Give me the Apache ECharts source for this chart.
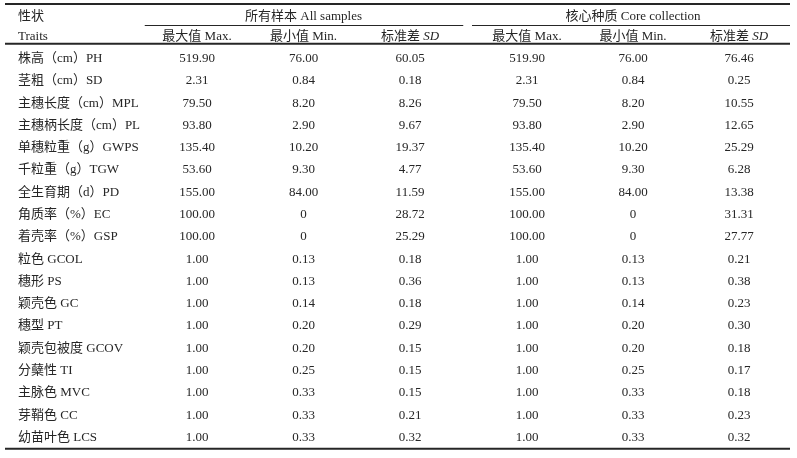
<!DOCTYPE html>
<html><head><meta charset="utf-8">
<script src="https://cdn.jsdelivr.net/npm/echarts@6/dist/echarts.min.js"></script>
<style>html,body{margin:0;padding:0;background:#fff}#c{width:797px;height:458px}</style>
</head><body><div id="c"></div>
<script>
// ---- data ----
const traitHeader = ['性状', 'Traits'];
const groupHeaders = ['所有样本 All samples', '核心种质 Core collection'];
const statHeaders = ['最大值 Max.', '最小值 Min.', '标准差 SD'];
const traits = ['株高（cm）PH','茎粗（cm）SD','主穗长度（cm）MPL','主穗柄长度（cm）PL','单穗粒重（g）GWPS','千粒重（g）TGW','全生育期（d）PD','角质率（%）EC','着壳率（%）GSP','粒色 GCOL','穗形 PS','颖壳色 GC','穗型 PT','颖壳包被度 GCOV','分蘖性 TI','主脉色 MVC','芽鞘色 CC','幼苗叶色 LCS'];
const allMax = [519.90,2.31,79.50,93.80,135.40,53.60,155.00,100.00,100.00,1.00,1.00,1.00,1.00,1.00,1.00,1.00,1.00,1.00];
const allMin = [76.00,0.84,8.20,2.90,10.20,9.30,84.00,0,0,0.13,0.13,0.14,0.20,0.20,0.25,0.33,0.33,0.33];
const allSD  = [60.05,0.18,8.26,9.67,19.37,4.77,11.59,28.72,25.29,0.18,0.36,0.18,0.29,0.15,0.15,0.15,0.21,0.32];
const coreMax = [519.90,2.31,79.50,93.80,135.40,53.60,155.00,100.00,100.00,1.00,1.00,1.00,1.00,1.00,1.00,1.00,1.00,1.00];
const coreMin = [76.00,0.84,8.20,2.90,10.20,9.30,84.00,0,0,0.13,0.13,0.14,0.20,0.20,0.25,0.33,0.33,0.33];
const coreSD  = [76.46,0.25,10.55,12.65,25.29,6.28,13.38,31.31,27.77,0.21,0.38,0.23,0.30,0.18,0.17,0.18,0.23,0.32];

// ---- layout / style ----
const FONT = '"Liberation Serif", "Times New Roman", "Noto Sans CJK SC", serif';
const FS = 13;
const INK = '#262626';
const TEXT_DY = 1.5;
const LAY = { ruleL: 5, ruleR: 790, ruleTop: 4, ruleHead: 43.7, ruleBottom: 448.7,
  headTop: 5, headH: 40, bodyTop: 45.85, bodyH: 401.3,
  traitL: 18, allL: 143.75, allW: 319.5, coreL: 474, coreW: 318 };

const fmt = v => v === 0 ? '0' : v.toFixed(2);
const rich = { n: { fontFamily: FONT, fontSize: FS, fill: INK }, i: { fontFamily: FONT, fontSize: FS, fontStyle: 'italic', fill: INK } };
const labelText = s => s.endsWith(' SD') ? '{n|' + s.slice(0, -2) + '}{i|SD}' : '{n|' + s + '}';

function hiddenAxis(type, gridIndex, extra) {
  return Object.assign({ type, gridIndex, show: false }, extra || {});
}

const grids = [
  { left: LAY.traitL, top: LAY.headTop, width: 120, height: LAY.headH },
  { left: LAY.allL, top: LAY.headTop, width: LAY.allW, height: LAY.headH },
  { left: LAY.coreL, top: LAY.headTop, width: LAY.coreW, height: LAY.headH },
  { left: LAY.traitL, top: LAY.bodyTop, width: 120, height: LAY.bodyH },
  { left: LAY.allL, top: LAY.bodyTop, width: LAY.allW, height: LAY.bodyH },
  { left: LAY.coreL, top: LAY.bodyTop, width: LAY.coreW, height: LAY.bodyH }
];
const headRows = ['group', 'stat'];
const xAxes = [
  hiddenAxis('value', 0, { min: 0, max: 1 }),
  hiddenAxis('category', 1, { data: statHeaders }),
  hiddenAxis('category', 2, { data: statHeaders }),
  hiddenAxis('value', 3, { min: 0, max: 1 }),
  hiddenAxis('category', 4, { data: statHeaders }),
  hiddenAxis('category', 5, { data: statHeaders })
];
const yAxes = [
  hiddenAxis('category', 0, { data: traitHeader, inverse: true }),
  hiddenAxis('category', 1, { data: headRows, inverse: true }),
  hiddenAxis('category', 2, { data: headRows, inverse: true }),
  hiddenAxis('category', 3, { data: traits, inverse: true }),
  hiddenAxis('category', 4, { data: traits, inverse: true }),
  hiddenAxis('category', 5, { data: traits, inverse: true })
];

function textSeries(g, items, align) {
  return {
    type: 'custom', xAxisIndex: g, yAxisIndex: g, silent: true,
    data: items.map(d => [d[0], d[1]]),
    renderItem(params, api) {
      const p = api.coord([api.value(0), api.value(1)]);
      return { type: 'text', x: p[0], y: p[1] + TEXT_DY,
        style: { text: labelText(items[params.dataIndex][2]), rich, align, verticalAlign: 'middle',
          fontFamily: FONT, fontSize: FS, fill: INK } };
    }
  };
}
function groupRule(g, insetL, insetR) {
  return {
    type: 'custom', xAxisIndex: g, yAxisIndex: g, silent: true, data: [[1, 0]],
    renderItem(params, api) {
      const p = api.coord([1, 0]);
      const s = api.size([1, 1]);
      const y = Math.round(p[1] + s[1] / 2) + 0.5;
      return { type: 'line', shape: { x1: p[0] - 1.5 * s[0] + insetL, y1: y, x2: p[0] + 1.5 * s[0] - insetR, y2: y },
        style: { stroke: INK, lineWidth: 1 } };
    }
  };
}

const series = [
  textSeries(0, traitHeader.map((t, i) => [0, i, t]), 'left'),
  textSeries(1, [[1, 0, groupHeaders[0]]].concat(statHeaders.map((t, i) => [i, 1, t])), 'center'),
  textSeries(2, [[1, 0, groupHeaders[1]]].concat(statHeaders.map((t, i) => [i, 1, t])), 'center'),
  groupRule(1, 1, 0), groupRule(2, -2, 2),
  textSeries(3, traits.map((t, i) => [0, i, t]), 'left'),
  textSeries(4, [].concat(allMax.map((v, i) => [0, i, fmt(v)]), allMin.map((v, i) => [1, i, fmt(v)]), allSD.map((v, i) => [2, i, fmt(v)])), 'center'),
  textSeries(5, [].concat(coreMax.map((v, i) => [0, i, fmt(v)]), coreMin.map((v, i) => [1, i, fmt(v)]), coreSD.map((v, i) => [2, i, fmt(v)])), 'center')
];

const rule = (y, w) => ({ type: 'line', silent: true,
  shape: { x1: LAY.ruleL, y1: y, x2: LAY.ruleR, y2: y }, style: { stroke: INK, lineWidth: w } });

const chart = echarts.init(document.getElementById('c'), null, { renderer: 'canvas' });
chart.setOption({
  animation: false,
  backgroundColor: '#fff',
  grid: grids, xAxis: xAxes, yAxis: yAxes, series,
  graphic: [rule(LAY.ruleTop, 2), rule(LAY.ruleHead, 2), rule(LAY.ruleBottom, 2)]
});
</script></body></html>
